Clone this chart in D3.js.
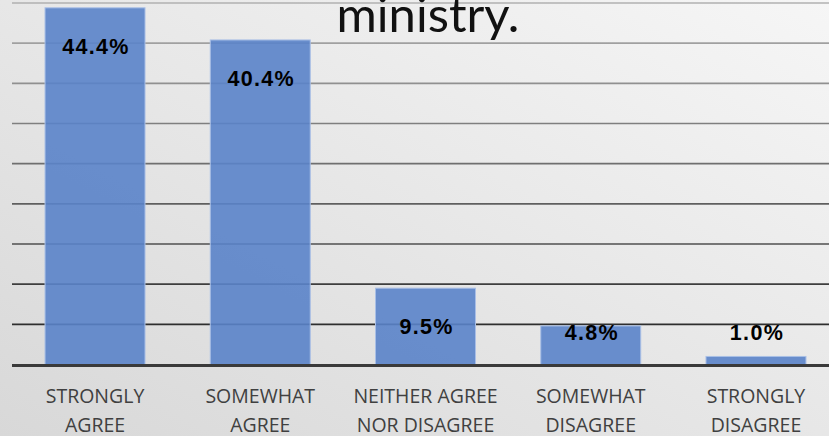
<!DOCTYPE html>
<html>
<head>
<meta charset="utf-8">
<script src="https://cdn.jsdelivr.net/npm/d3@7"></script>
<style>
  html, body { margin: 0; padding: 0; }
  body { width: 829px; height: 436px; overflow: hidden; }
</style>
</head>
<body>
<div id="chart"></div>
<script>
// values
var categories = [
    ["STRONGLY", "AGREE"],
    ["SOMEWHAT", "AGREE"],
    ["NEITHER AGREE", "NOR DISAGREE"],
    ["SOMEWHAT", "DISAGREE"],
    ["STRONGLY", "DISAGREE"]
];
var values = [44.4, 40.4, 9.5, 4.8, 1.0];
var valueLabels = ["44.4%", "40.4%", "9.5%", "4.8%", "1.0%"];
var gridTicks = [0, 5, 10, 15, 20, 25, 30, 35, 40, 45];
var titleLine = "ministry.";

const width = 829, height = 436;

var svg = d3.select("#chart").append("svg")
    .attr("width", width)
    .attr("height", height);

// background gradient, darker bottom-left
var defs = svg.append("defs");
var bg = defs.append("linearGradient")
    .attr("id", "bg")
    .attr("x1", "0%").attr("y1", "100%")
    .attr("x2", "100%").attr("y2", "0%");
bg.append("stop").attr("offset", "0%").attr("stop-color", "#d8d8d8");
bg.append("stop").attr("offset", "100%").attr("stop-color", "#f6f6f6");

svg.append("rect")
    .attr("width", width)
    .attr("height", height)
    .attr("fill", "url(#bg)");

var x = d3.scaleBand()
    .domain(d3.range(values.length))
    .range([12.4, 838.6])
    .paddingInner(0.395)
    .paddingOuter(0.1975);

var y = d3.scaleLinear()
    .domain([0, 45])
    .range([364.5, 3]);

var lineColor = d3.scaleLinear()
    .domain([45, 0])
    .range(["#b0b0b0", "#1e1e1e"]);

// gridlines
svg.append("g").selectAll("line")
    .data(gridTicks.filter(d => d > 0))
    .enter()
    .append("line")
    .attr("x1", 12)
    .attr("x2", width)
    .attr("y1", d => y(d))
    .attr("y2", d => y(d))
    .attr("stroke", d => lineColor(d))
    .attr("stroke-width", 1.6);

// bars
svg.append("g").selectAll("rect")
    .data(values)
    .enter()
    .append("rect")
    .attr("x", (d, i) => x(i))
    .attr("y", d => y(d))
    .attr("width", x.bandwidth())
    .attr("height", d => y(0) - y(d))
    .attr("fill", "#5a83c9")
    .attr("fill-opacity", 0.9)
    .attr("stroke", "#a9bfe6")
    .attr("stroke-width", 1);

// axis line
svg.append("line")
    .attr("x1", 12)
    .attr("x2", width)
    .attr("y1", y(0) + 1)
    .attr("y2", y(0) + 1)
    .attr("stroke", "#3a3a3a")
    .attr("stroke-width", 3);

// value labels
svg.append("g").selectAll("text")
    .data(values)
    .enter()
    .append("text")
    .attr("x", (d, i) => x(i) + x.bandwidth() / 2 + 1)
    .attr("y", d => Math.min(y(d) + 38, 332) + 8)
    .attr("text-anchor", "middle")
    .attr("font-family", "Liberation Sans, Arial, sans-serif")
    .attr("font-weight", "bold")
    .attr("font-size", "21.5px")
    .attr("letter-spacing", "1.3px")
    .attr("fill", "#000")
    .text((d, i) => valueLabels[i]);

// category labels
var cat = svg.append("g").selectAll("text")
    .data(categories)
    .enter()
    .append("text")
    .attr("text-anchor", "middle")
    .attr("font-family", "Open Sans, sans-serif")
    .attr("font-size", "19.5px")
    .attr("fill", "#404040");

cat.each(function(d, i) {
    var t = d3.select(this);
    d.forEach(function(line, k) {
        t.append("tspan")
            .attr("x", x(i) + x.bandwidth() / 2)
            .attr("y", 403 + k * 28.5)
            .text(line);
    });
});

// title, only its last line is visible
svg.append("text")
    .attr("x", 428)
    .attr("y", 32)
    .attr("text-anchor", "middle")
    .attr("font-family", "Lato, sans-serif")
    .attr("font-size", "49px")
    .attr("fill", "#111")
    .text(titleLine);
</script>
</body>
</html>
